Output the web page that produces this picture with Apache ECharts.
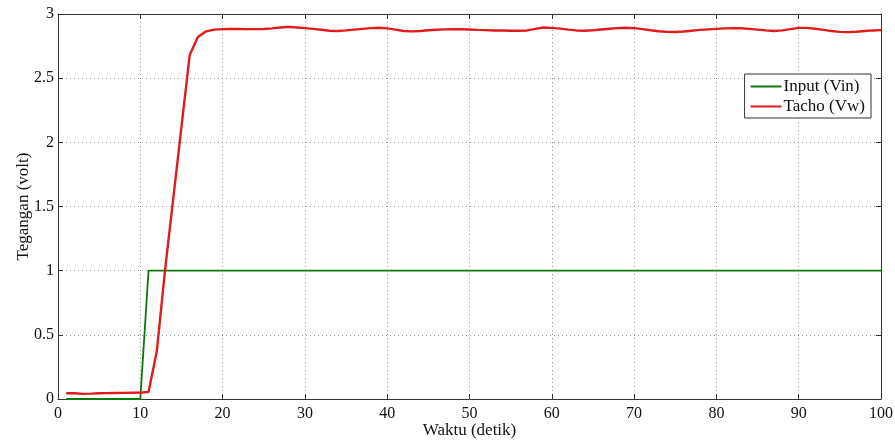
<!DOCTYPE html>
<html>
<head>
<meta charset="utf-8">
<script src="https://cdn.jsdelivr.net/npm/echarts@6/dist/echarts.min.js"></script>
<style>
html,body{margin:0;padding:0;background:#fff;}
#chart{width:895px;height:441px;}
</style>
</head>
<body>
<div id="chart"></div>
<script>
// Sample times (seconds)
const waktu = [1,2,3,4,5,6,7,8,9,10,11,12,13,14,15,16,17,18,19,20,
  21,22,23,24,25,26,27,28,29,30,31,32,33,34,35,36,37,38,39,40,
  41,42,43,44,45,46,47,48,49,50,51,52,53,54,55,56,57,58,59,60,
  61,62,63,64,65,66,67,68,69,70,71,72,73,74,75,76,77,78,79,80,
  81,82,83,84,85,86,87,88,89,90,91,92,93,94,95,96,97,98,99,100];

// Input voltage (Vin), step at t = 10 s
const vin = [0,0,0,0,0,0,0,0,0,0,1,1,1,1,1,1,1,1,1,1,
  1,1,1,1,1,1,1,1,1,1,1,1,1,1,1,1,1,1,1,1,
  1,1,1,1,1,1,1,1,1,1,1,1,1,1,1,1,1,1,1,1,
  1,1,1,1,1,1,1,1,1,1,1,1,1,1,1,1,1,1,1,1,
  1,1,1,1,1,1,1,1,1,1,1,1,1,1,1,1,1,1,1,1];

// Tachometer voltage (Vw)
const vw = [0.045,0.045,0.040,0.042,0.045,0.046,0.047,0.048,0.049,0.050,
  0.055,0.37,1.00,1.56,2.12,2.68,2.82,2.865,2.878,2.882,
  2.884,2.883,2.882,2.882,2.883,2.888,2.895,2.900,2.895,2.890,
  2.884,2.877,2.870,2.868,2.872,2.878,2.884,2.890,2.893,2.888,
  2.878,2.868,2.865,2.868,2.873,2.877,2.880,2.882,2.881,2.879,
  2.876,2.874,2.872,2.871,2.870,2.869,2.872,2.884,2.895,2.892,
  2.886,2.878,2.872,2.870,2.873,2.879,2.885,2.890,2.893,2.890,
  2.882,2.873,2.866,2.861,2.860,2.864,2.870,2.876,2.880,2.884,
  2.888,2.890,2.889,2.884,2.878,2.872,2.868,2.872,2.882,2.892,
  2.892,2.885,2.876,2.867,2.861,2.859,2.862,2.867,2.872,2.874];

const seriesNames = ['Input (Vin)', 'Tacho (Vw)'];
const xTicks = [0,10,20,30,40,50,60,70,80,90,100];
const yTicks = [0,0.5,1,1.5,2,2.5,3];

const font = '"Liberation Serif", "Times New Roman", serif';
const pair = (ys) => waktu.map((t, i) => [t, ys[i]]);

const chart = echarts.init(document.getElementById('chart'), null, {renderer: 'canvas'});

const gridDotted = {show: true, lineStyle: {color: '#9a9a9a', type: [1, 3], width: 1}};
const baseX = {
  type: 'value', min: xTicks[0], max: xTicks[xTicks.length - 1], interval: 10,
  axisLine: {show: true, onZero: false, lineStyle: {color: '#333', width: 1}},
  axisTick: {show: true, inside: true, length: 5, lineStyle: {color: '#333'}},
};
const baseY = {
  type: 'value', min: yTicks[0], max: yTicks[yTicks.length - 1], interval: 0.5,
  axisLine: {show: true, onZero: false, lineStyle: {color: '#333', width: 1}},
  axisTick: {show: true, inside: true, length: 5, lineStyle: {color: '#333'}},
};

chart.setOption({
  animation: false,
  backgroundColor: '#fff',
  grid: {left: 58, right: 14, top: 14, bottom: 42, containLabel: false, outerBoundsMode: 'none'},
  xAxis: [
    Object.assign({}, baseX, {
      position: 'bottom',
      name: 'Waktu (detik)', nameLocation: 'middle', nameGap: 23, nameMoveOverlap: false,
      nameTextStyle: {fontFamily: font, fontSize: 17, color: '#111'},
      axisLabel: {fontFamily: font, fontSize: 16, color: '#111', margin: 7},
      splitLine: gridDotted
    }),
    Object.assign({}, baseX, {position: 'top', axisLabel: {show: false}, splitLine: {show: false}})
  ],
  yAxis: [
    Object.assign({}, baseY, {
      position: 'left',
      name: 'Tegangan (volt)', nameLocation: 'middle', nameGap: 26, nameMoveOverlap: false,
      nameTextStyle: {fontFamily: font, fontSize: 17, color: '#111'},
      axisLabel: {fontFamily: font, fontSize: 16, color: '#111', margin: 4},
      splitLine: gridDotted
    }),
    Object.assign({}, baseY, {position: 'right', axisLabel: {show: false}, splitLine: {show: false}})
  ],
  legend: {
    data: seriesNames,
    orient: 'vertical',
    right: 24, top: 74,
    backgroundColor: '#fff',
    borderColor: '#333', borderWidth: 1,
    padding: [4, 6, 3, 6],
    itemGap: 3,
    itemWidth: 31, itemHeight: 2,
    icon: 'rect',
    textStyle: {fontFamily: font, fontSize: 17, color: '#111', padding: [0, 0, 0, -3]}
  },
  series: [
    {
      name: seriesNames[0], type: 'line', data: pair(vin),
      xAxisIndex: 0, yAxisIndex: 0,
      showSymbol: false, symbol: 'none',
      lineStyle: {color: '#0a7a0a', width: 1.8},
      itemStyle: {color: '#0a7a0a'}, z: 3
    },
    {
      name: seriesNames[1], type: 'line', data: pair(vw),
      xAxisIndex: 0, yAxisIndex: 0,
      showSymbol: false, symbol: 'none',
      lineStyle: {color: '#e01b1b', width: 2.4},
      itemStyle: {color: '#e01b1b'}, z: 4
    }
  ]
});
</script>
</body>
</html>
